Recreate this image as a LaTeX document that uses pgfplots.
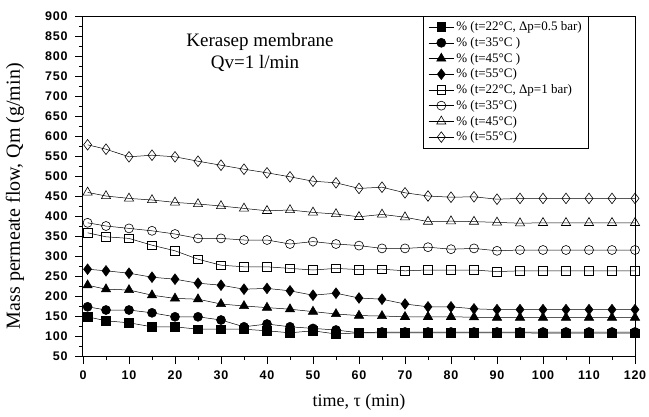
\documentclass[border=0pt]{standalone}
\usepackage{fontspec}
\setmainfont{Liberation Serif}
\setsansfont{Liberation Sans}
\newfontfamily\tickfont[LetterSpace=6]{Liberation Sans Bold}
\usepackage{pgfplots}
\pgfplotsset{compat=1.18}
\usepackage{pgfplotstable}

\pgfplotstableread{
t   S1  C1  T1  D1  S2  C2  T2  D2
1   148 173 227 267 358 383 459 578
5   138 165 217 263 348 375 450 567
10  133 165 215 257 344 369 444 548
15  123 158 202 247 327 363 440 552
20  123 148 194 242 313 355 434 548
25  117 148 192 232 292 344 430 537
30  117 140 180 227 277 344 425 527
35  117 123 175 217 273 340 419 517
40  113 130 171 219 273 340 413 508
45  108 123 167 213 269 330 415 498
50  113 119 161 202 265 336 409 487
55  105 115 155 207 269 330 405 483
60  108 108 151 195 266 326 398 469
65  108 110 150 192 267 319 404 472
70  108 110 148 180 263 319 397 458
75  108 110 148 173 265 322 386 450
80  108 110 148 173 265 317 387 447
85  108 110 147 168 265 319 386 448
90  108 110 146 166 261 313 384 442
95  108 110 146 166 263 315 382 444
100 107 110 146 166 263 315 383 444
105 107 110 146 166 263 315 383 444
110 107 110 146 166 263 315 383 444
115 107 110 146 166 263 315 383 444
120 107 110 146 166 263 315 383 444
}\data

\begin{document}
\begin{tikzpicture}
\begin{axis}[
  at={(0,0)}, anchor=south west,
  scale only axis, width=552pt, height=340pt,
  xmin=0, xmax=120, ymin=50, ymax=900,
  xtick={0,10,...,120}, ytick={50,100,...,900},
  minor x tick num=1, minor y tick num=1,
  tick pos=left, tick align=outside,
  major tick length=8pt, minor tick length=4pt,
  axis line style={line width=1pt},
  every tick/.style={black, line width=0.9pt},
  ticklabel style={font=\tickfont\fontsize{12.5}{14}\selectfont},
  xticklabel style={yshift=-3pt},
  yticklabel style={xshift=-4pt},
  /pgf/number format/assume math mode=true,
  xlabel={time, τ (min)},
  ylabel={Mass permeate flow, Qm (g/min)},
  xlabel style={at={(axis description cs:0.5,-0.135)}, anchor=center, font=\fontsize{18}{20}\selectfont},
  ylabel style={at={(axis description cs:-0.123,0.47)}, anchor=center, font=\fontsize{20}{22}\selectfont},
  legend style={at={(axis description cs:0.9167,1)}, anchor=north east,
    font=\fontsize{13}{15}\selectfont, draw=black, line width=0.6pt,
    inner xsep=5pt, inner ysep=3.5pt, row sep=1.2pt, cells={anchor=west}},
  legend image code/.code={\draw[mark repeat=2,mark phase=2] plot coordinates {(0cm,0cm)(0.45cm,0cm)(0.9cm,0cm)};},
  every axis plot/.append style={black, line width=0.5pt, mark options={solid, line width=0.6pt}},
]
\addplot[mark=square*, mark size=4.3pt] table[x=t,y=S1]{\data};
\addlegendentry{\% (t=22°C, Δp=0.5 bar)}
\addplot[mark=*, mark size=4.5pt] table[x=t,y=C1]{\data};
\addlegendentry{\% (t=35°C )}
\addplot[mark=triangle*, mark size=5.3pt] table[x=t,y=T1]{\data};
\addlegendentry{\% (t=45°C )}
\addplot[mark=diamond*, mark size=5.3pt] table[x=t,y=D1]{\data};
\addlegendentry{\% (t=55°C)}
\addplot[mark=square, mark size=4.3pt, mark options={fill=white}] table[x=t,y=S2]{\data};
\addlegendentry{\% (t=22°C, Δp=1 bar)}
\addplot[mark=o, mark size=4.5pt] table[x=t,y=C2]{\data};
\addlegendentry{\% (t=35°C)}
\addplot[mark=triangle, mark size=5.3pt] table[x=t,y=T2]{\data};
\addlegendentry{\% (t=45°C)}
\addplot[mark=diamond, mark size=5.3pt] table[x=t,y=D2]{\data};
\addlegendentry{\% (t=55°C)}
\node[font=\fontsize{19}{21}\selectfont] at (axis description cs:0.3207,0.9235) {Kerasep membrane};
\node[font=\fontsize{19}{21}\selectfont] at (axis description cs:0.3116,0.8618) {Qv=1 l/min};
\end{axis}
\pgfresetboundingbox
\path (-83pt,-60pt) rectangle (566pt,356pt);
\end{tikzpicture}
\end{document}
